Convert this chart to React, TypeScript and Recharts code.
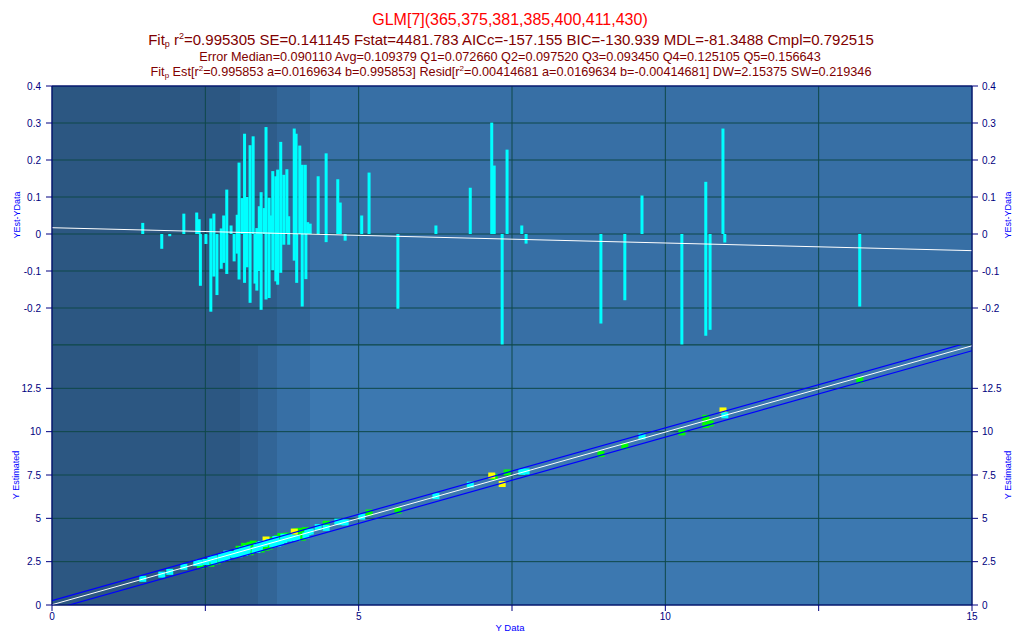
import { ComposedChart, Bar, Line, Scatter, XAxis, YAxis, CartesianGrid, ReferenceLine } from "recharts";

// Y Data (x) and residual YEst-YData
const yData = [
  1.48, 1.79, 1.92, 2.15, 2.36, 2.4, 2.42, 2.51, 2.59, 2.59, 2.64, 2.64, 2.69, 2.76, 2.76, 2.8, 2.8, 2.85, 2.85,
  2.92, 2.97, 3.02, 3.02, 3.05, 3.05, 3.1, 3.14, 3.14, 3.18, 3.18, 3.23, 3.23, 3.28, 3.31, 3.34, 3.34, 3.38, 3.38,
  3.41, 3.41, 3.46, 3.49, 3.49, 3.54, 3.54, 3.57, 3.6, 3.6, 3.65, 3.65, 3.68, 3.68, 3.73, 3.73, 3.78, 3.78, 3.83,
  3.86, 3.86, 3.95, 3.95, 3.98, 3.99, 4.04, 4.08, 4.08, 4.13, 4.14, 4.17, 4.21, 4.34, 4.47, 4.47, 4.66, 4.7, 4.78,
  5.05, 5.17, 5.64, 6.26, 6.82, 7.17, 7.21, 7.34, 7.42, 7.66, 7.73, 8.95, 9.34, 9.62, 10.27, 10.66, 10.66, 10.73,
  10.94, 10.97, 13.17,
];
const resid = [
  0.03, -0.04, -0.006, 0.055, 0.058, 0.04, -0.14, -0.027, 0.042, -0.21, 0.055, -0.115, -0.165, 0.015, -0.094, 0.05,
  -0.078, 0.12, -0.108, 0.023, -0.074, 0.052, -0.053, 0.193, -0.123, 0.097, 0.271, -0.132, 0.1, -0.09, 0.24, -0.186,
  0.264, -0.134, 0.016, -0.153, 0.075, -0.1, 0.113, -0.205, 0.07, 0.289, -0.177, 0.098, -0.173, 0.05, 0.17, -0.098,
  0.156, -0.128, 0.174, -0.137, 0.249, -0.105, 0.16, -0.029, 0.175, 0.048, -0.029, 0.285, -0.072, 0.271, -0.132,
  0.239, 0.187, -0.196, 0.187, -0.122, 0.032, 0.028, 0.156, 0.218, -0.022, 0.148, 0.085, -0.018, 0.05, 0.166, -0.202,
  0.023, 0.125, 0.301, 0.185, -0.36, 0.228, 0.023, -0.026, -0.242, -0.179, 0.104, -0.31, 0.141, -0.275, -0.259,
  0.285, -0.023, -0.196,
];
// point class in the lower panel: 0 = normal, 1 = flagged, 2 = outlier
const flags = [
  0, 0, 0, 0, 0, 0, 1, 0, 0, 1, 0, 0, 1, 0, 0, 0, 0, 0, 0, 0, 0, 0, 0, 1, 0, 0, 1, 0, 0, 0, 1, 1, 1, 0, 0, 0, 0, 0,
  0, 1, 0, 2, 1, 0, 1, 0, 1, 0, 0, 0, 1, 0, 1, 0, 0, 0, 1, 0, 0, 2, 0, 1, 0, 1, 1, 1, 1, 0, 0, 0, 0, 1, 0, 0, 0, 0,
  0, 1, 1, 0, 0, 2, 1, 2, 1, 0, 0, 1, 1, 0, 1, 1, 1, 1, 2, 0, 1,
];

const bandEdges = [0, 3.07, 3.36, 3.67, 4.21];
const xTicks = [0, 2.5, 5, 7.5, 10, 12.5, 15];
const residTicks = [-0.2, -0.1, 0, 0.1, 0.2, 0.3, 0.4];
const residGrid = [-0.3, -0.2, -0.1, 0, 0.1, 0.2, 0.3, 0.4];
const estTicks = [0, 2.5, 5, 7.5, 10, 12.5];
const estGrid = [0, 2.5, 5, 7.5, 10, 12.5, 15];

const residTrend = [{ x: 0, y: 0.017 }, { x: 15, y: -0.045 }];
const fitLine = [{ x: 0, y: 0.017 }, { x: 15, y: 14.955 }];
const upperBand = [{ x: 0, y: 0.25 }, { x: 15, y: 15.2 }];
const lowerBand = [{ x: 0, y: -0.28 }, { x: 15, y: 14.67 }];

const BAND_FILLS = ["#2c5782", "#2e5c8a", "#326597", "#376fa5", "#3c78b0"];
const GRID = "#0f4848";
const NAVY = "#000080";
const POINT_COLORS = ["#00ffff", "#00ff00", "#ffff00"];
const FONT = "'Liberation Sans', Arial, sans-serif";

const residData = yData.map((x, i) => ({ x, r: resid[i] }));
const estData = yData.map((x, i) => ({ x, y: x + resid[i], f: flags[i] }));

const tickStyle = { fill: NAVY, fontSize: 10 };

function square(color: string) {
  return (props: any) => (
    <rect x={props.cx - 3.5} y={props.cy - 3} width={7} height={6} fill={color} />
  );
}

// fixed 3px stick centred on the bar slot recharts gives us
function stick(props: any) {
  const top = Math.min(props.y, props.y + props.height);
  const h = Math.abs(props.height);
  return <rect x={props.x + props.width / 2 - 1.5} y={top} width={3} height={h} fill="#00ffff" />;
}

export default function App() {
  return (
    <div style={{ position: "absolute", left: 0, top: 0, width: 1024, height: 640, background: "#fff", fontFamily: FONT }}>
      {/* residual panel */}
      <div style={{ position: "absolute", left: 0, top: 0 }}>
        <ComposedChart width={1024} height={640} data={residData} margin={{ top: 86, right: 0, bottom: 295, left: 0 }}>
          <CartesianGrid horizontal={false} verticalValues={bandEdges} verticalFill={BAND_FILLS} stroke="none" />
          <CartesianGrid horizontalValues={residGrid} verticalValues={xTicks} stroke={GRID} />
          <XAxis type="number" dataKey="x" domain={[0, 15]} ticks={xTicks} hide />
          <YAxis
            domain={[-0.3, 0.4]}
            ticks={residTicks}
            allowDataOverflow
            width={52}
            axisLine={{ stroke: NAVY }}
            tickLine={{ stroke: NAVY }}
            tick={tickStyle}
            tickMargin={5}
          />
          <YAxis
            yAxisId="r"
            orientation="right"
            domain={[-0.3, 0.4]}
            ticks={residTicks}
            allowDataOverflow
            width={52}
            axisLine={{ stroke: NAVY }}
            tickLine={{ stroke: NAVY }}
            tick={tickStyle}
            tickMargin={4}
          />
          <Bar dataKey="r" fill="#00ffff" barSize={3} shape={stick} isAnimationActive={false} />
          <Line data={residTrend} dataKey="y" stroke="#ffffff" strokeWidth={1} dot={false} isAnimationActive={false} />
          <ReferenceLine y={0.4} stroke={NAVY} />
        </ComposedChart>
      </div>

      {/* estimated vs data panel */}
      <div style={{ position: "absolute", left: 0, top: 0 }}>
        <ComposedChart width={1024} height={640} margin={{ top: 345, right: 0, bottom: 0, left: 0 }}>
          <CartesianGrid horizontal={false} verticalValues={bandEdges} verticalFill={BAND_FILLS} stroke="none" />
          <CartesianGrid horizontalValues={estGrid} verticalValues={xTicks} stroke={GRID} />
          <XAxis
            type="number"
            dataKey="x"
            domain={[0, 15]}
            ticks={xTicks}
            height={35}
            axisLine={{ stroke: NAVY }}
            tickLine={{ stroke: NAVY }}
            tick={tickStyle}
            tickMargin={2}
            tickFormatter={(v: number) => (v % 5 === 0 ? String(v) : "")}
          />
          <YAxis
            dataKey="y"
            domain={[0, 15]}
            ticks={estTicks}
            allowDataOverflow
            width={52}
            axisLine={{ stroke: NAVY }}
            tickLine={{ stroke: NAVY }}
            tick={tickStyle}
            tickMargin={5}
          />
          <YAxis
            yAxisId="r"
            orientation="right"
            domain={[0, 15]}
            ticks={estTicks}
            allowDataOverflow
            width={52}
            axisLine={{ stroke: NAVY }}
            tickLine={{ stroke: NAVY }}
            tick={tickStyle}
            tickMargin={4}
          />
          {[1, 2, 0].map((f) => (
            <Scatter
              key={f}
              data={estData.filter((d) => d.f === f)}
              shape={square(POINT_COLORS[f])}
              zIndex={350}
              isAnimationActive={false}
            />
          ))}
          <Line data={upperBand} dataKey="y" stroke="#0000ff" strokeWidth={1.2} dot={false} isAnimationActive={false} />
          <Line data={lowerBand} dataKey="y" stroke="#0000ff" strokeWidth={1.2} dot={false} isAnimationActive={false} />
          <Line data={fitLine} dataKey="y" stroke="#ffffff" strokeWidth={1} dot={false} isAnimationActive={false} />
        </ComposedChart>
      </div>

      {/* titles and axis names */}
      <svg width={1024} height={640} style={{ position: "absolute", left: 0, top: 0, pointerEvents: "none" }}>
        <text x={510} y={25} textAnchor="middle" fontSize={16} fill="#ff0000">
          GLM[7](365,375,381,385,400,411,430)
        </text>
        <text x={511} y={45} textAnchor="middle" fontSize={15} fill="#800000">
          Fit<tspan fontSize={9} dy={2}>p</tspan>
          <tspan dy={-2}> r</tspan>
          <tspan fontSize={9} dy={-6}>2</tspan>
          <tspan dy={6}>=0.995305 SE=0.141145 Fstat=4481.783 AICc=-157.155 BIC=-130.939 MDL=-81.3488 Cmpl=0.792515</tspan>
        </text>
        <text x={510} y={61} textAnchor="middle" fontSize={12.7} fill="#800000">
          Error Median=0.090110 Avg=0.109379 Q1=0.072660 Q2=0.097520 Q3=0.093450 Q4=0.125105 Q5=0.156643
        </text>
        <text x={511} y={76} textAnchor="middle" fontSize={12.7} fill="#800000">
          Fit<tspan fontSize={8} dy={2}>p</tspan>
          <tspan dy={-2}> Est[r</tspan>
          <tspan fontSize={8} dy={-5}>2</tspan>
          <tspan dy={5}>=0.995853 a=0.0169634 b=0.995853] Resid[r</tspan>
          <tspan fontSize={8} dy={-5}>2</tspan>
          <tspan dy={5}>=0.00414681 a=0.0169634 b=-0.00414681] DW=2.15375 SW=0.219346</tspan>
        </text>
        <text x={20} y={215} transform="rotate(-90 20 215)" textAnchor="middle" fontSize={9} fill="#0000ff">
          YEst-YData
        </text>
        <text x={19} y={475} transform="rotate(-90 19 475)" textAnchor="middle" fontSize={9} fill="#0000ff">
          Y Estimated
        </text>
        <text x={1011} y={215} transform="rotate(-90 1011 215)" textAnchor="middle" fontSize={9} fill="#0000ff">
          YEst-YData
        </text>
        <text x={1011} y={475} transform="rotate(-90 1011 475)" textAnchor="middle" fontSize={9} fill="#0000ff">
          Y Estimated
        </text>
        <text x={510} y={631} textAnchor="middle" fontSize={9.5} fill="#0000ff">
          Y Data
        </text>
      </svg>
    </div>
  );
}
